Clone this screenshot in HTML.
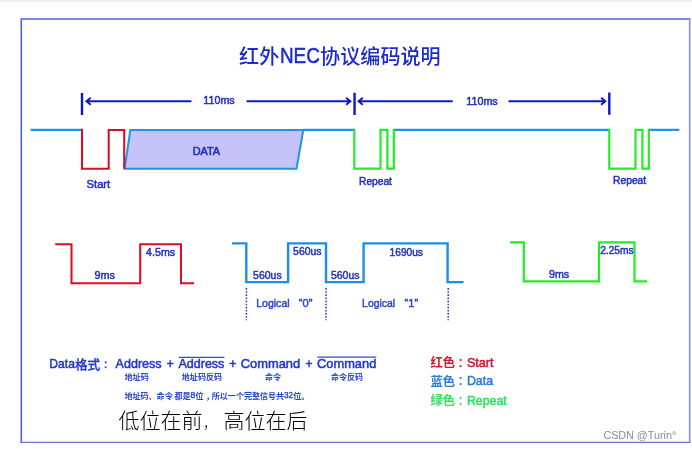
<!DOCTYPE html>
<html lang="zh-CN">
<head>
<meta charset="utf-8">
<title>红外NEC协议编码说明</title>
<style>
html,body{margin:0;padding:0;background:#fff;}
body{width:692px;height:449px;overflow:hidden;font-family:"Liberation Sans",sans-serif;}
svg{display:block;}
svg text{font-family:"Liberation Sans","Noto Sans CJK SC",sans-serif;}
</style>
</head>
<body>
<svg width="692" height="449" viewBox="0 0 692 449">
<defs>
<filter id="soft" x="0" y="0" width="692" height="449" filterUnits="userSpaceOnUse"><feGaussianBlur stdDeviation="0.38"/></filter>
</defs>
<g filter="url(#soft)">
<rect x="0" y="0" width="692" height="449" fill="#ffffff"/>
<rect x="0" y="0" width="692" height="2" fill="#efefef"/>
<path d="M21.3 443V18.95H690.4" fill="none" stroke="#4c64dc" stroke-width="1.6"/>
<path d="M689.7 19V442.5" fill="none" stroke="#8794da" stroke-width="1.6"/>
<path d="M20.5 442.4H690.5" fill="none" stroke="#6474d0" stroke-width="1.4"/>
<text x="239.1" y="64.2" font-size="20.5" font-weight="500" fill="#1c2ad0" textLength="40.2" lengthAdjust="spacingAndGlyphs">红外</text>
<text x="279.9" y="63.1" font-size="22" fill="#1c2ad0" textLength="39.9" lengthAdjust="spacingAndGlyphs" stroke="#1c2ad0" stroke-width="0.5">NEC</text>
<text x="320.1" y="64.2" font-size="20.5" font-weight="500" fill="#1c2ad0" textLength="120.6" lengthAdjust="spacingAndGlyphs">协议编码说明</text>
<path d="M30.5 129.9H82" fill="none" stroke="#2094e6" stroke-width="2.2"/>
<path d="M124.6 168.7L130.3 130H303.3L296.5 168.7Z" fill="#c5c3f7" stroke="#2094e6" stroke-width="2" stroke-linejoin="miter"/>
<path d="M303.3 129.9H354.3M393.8 129.9H609.3M648.8 129.9H679.3" fill="none" stroke="#2094e6" stroke-width="2.2"/>
<path d="M82 128.8V168.8H108.7V129.9H124.2V168.8" fill="none" stroke="#da1028" stroke-width="2.05" stroke-linejoin="miter"/>
<path d="M354.3 128.8V168.7H380.5V129.9H387.4V168.7H393.8V128.8" fill="none" stroke="#20ee28" stroke-width="2.2" stroke-linejoin="miter"/>
<path d="M609.3 128.8V168.7H635.5V129.9H642.4V168.7H648.8V128.8" fill="none" stroke="#20ee28" stroke-width="2.2" stroke-linejoin="miter"/>
<path d="M82 92.9V115M354.55 92.7V114.9M609.3 92.6V114.8" fill="none" stroke="#1018c8" stroke-width="2.4"/>
<path d="M191.4 101.25H86.1M90.69999999999999 97.75L86.39999999999999 101.25L90.69999999999999 104.75M246.6 101.25H350.7M346.09999999999997 97.75L350.4 101.25L346.09999999999997 104.75M452.7 101.25H358.2M362.8 97.75L358.5 101.25L362.8 104.75M508.5 101.25H605.7M601.1 97.75L605.4000000000001 101.25L601.1 104.75" fill="none" stroke="#1018c8" stroke-width="1.9" stroke-linejoin="miter"/>
<text x="203.3" y="103.7" font-size="10.4" fill="#2230c0" textLength="31.4" lengthAdjust="spacingAndGlyphs" stroke="#2230c0" stroke-width="0.5">110ms</text>
<text x="466.3" y="104.5" font-size="10.4" fill="#2230c0" textLength="31.4" lengthAdjust="spacingAndGlyphs" stroke="#2230c0" stroke-width="0.5">110ms</text>
<text x="192.7" y="154.5" font-size="10" fill="#2230c0" textLength="27.4" lengthAdjust="spacingAndGlyphs" stroke="#2230c0" stroke-width="0.55">DATA</text>
<text x="86.6" y="187.6" font-size="10.6" fill="#2230c0" textLength="23.6" lengthAdjust="spacingAndGlyphs" stroke="#2230c0" stroke-width="0.5">Start</text>
<text x="359.1" y="184.8" font-size="10.4" fill="#2230c0" textLength="32.8" lengthAdjust="spacingAndGlyphs" stroke="#2230c0" stroke-width="0.5">Repeat</text>
<text x="613" y="184.3" font-size="10.4" fill="#2230c0" textLength="33.2" lengthAdjust="spacingAndGlyphs" stroke="#2230c0" stroke-width="0.5">Repeat</text>
<path d="M55.2 244.2H71.5V283.2H140.2V244.2H181V283.2H194.1" fill="none" stroke="#da1028" stroke-width="2.05" stroke-linejoin="miter"/>
<path d="M232 243.4H246.3V282.1H288.1V243.4H326V282.1H363.6V243.4H447.6V282.1H463.5" fill="none" stroke="#1e8eea" stroke-width="2.4" stroke-linejoin="miter"/>
<path d="M510.2 242.4H523.8V281.4H599V242.4H634.5V281.4H647" fill="none" stroke="#20ee28" stroke-width="2.2" stroke-linejoin="miter"/>
<path d="M246.4 288V320.2M326 288V320.2M448.2 288V320.2" fill="none" stroke="#3038b8" stroke-width="1.5" stroke-dasharray="1.65 1.48"/>
<text x="94.6" y="279.2" font-size="11.4" fill="#2434bc" textLength="20.4" lengthAdjust="spacingAndGlyphs" stroke="#2434bc" stroke-width="0.5">9ms</text>
<text x="146.1" y="256.3" font-size="11.4" fill="#2434bc" textLength="29" lengthAdjust="spacingAndGlyphs" stroke="#2434bc" stroke-width="0.5">4.5ms</text>
<text x="253.1" y="278.8" font-size="11.2" fill="#2434bc" textLength="28.6" lengthAdjust="spacingAndGlyphs" stroke="#2434bc" stroke-width="0.5">560us</text>
<text x="293.1" y="255.4" font-size="11.2" fill="#2434bc" textLength="28.4" lengthAdjust="spacingAndGlyphs" stroke="#2434bc" stroke-width="0.5">560us</text>
<text x="330.9" y="278.8" font-size="11.2" fill="#2434bc" textLength="28.6" lengthAdjust="spacingAndGlyphs" stroke="#2434bc" stroke-width="0.5">560us</text>
<text x="389.6" y="255.5" font-size="11.2" fill="#2434bc" textLength="33.3" lengthAdjust="spacingAndGlyphs" stroke="#2434bc" stroke-width="0.5">1690us</text>
<text x="549" y="278.1" font-size="11.4" fill="#2434bc" textLength="20.2" lengthAdjust="spacingAndGlyphs" stroke="#2434bc" stroke-width="0.5">9ms</text>
<text x="600.2" y="253.7" font-size="11.4" fill="#2434bc" textLength="33.4" lengthAdjust="spacingAndGlyphs" stroke="#2434bc" stroke-width="0.5">2.25ms</text>
<text x="256.2" y="306.5" font-size="10.3" fill="#3048c4" textLength="33.4" lengthAdjust="spacingAndGlyphs" stroke="#3048c4" stroke-width="0.45">Logical</text>
<text x="298.8" y="306.5" font-size="10.3" fill="#3048c4" textLength="13.6" lengthAdjust="spacingAndGlyphs" stroke="#3048c4" stroke-width="0.45">“0”</text>
<text x="362.1" y="306.5" font-size="10.3" fill="#3048c4" textLength="33" lengthAdjust="spacingAndGlyphs" stroke="#3048c4" stroke-width="0.45">Logical</text>
<text x="404.6" y="306.5" font-size="10.3" fill="#3048c4" textLength="13.6" lengthAdjust="spacingAndGlyphs" stroke="#3048c4" stroke-width="0.45">“1”</text>
<text x="49.3" y="368.2" font-size="13.4" fill="#2438cc" textLength="25.6" lengthAdjust="spacingAndGlyphs" stroke="#2438cc" stroke-width="0.55">Data</text>
<text x="75" y="369.1" font-size="12.7" font-weight="500" fill="#2438cc" stroke="#2438cc" stroke-width="0.3" textLength="25.2" lengthAdjust="spacingAndGlyphs">格式</text>
<text x="103.3" y="367.9" font-size="9.7" font-weight="500" fill="#2438cc" stroke="#2438cc" stroke-width="0.3">：</text>
<text x="115.6" y="368.2" font-size="13.4" fill="#2438cc" textLength="46" lengthAdjust="spacingAndGlyphs" stroke="#2438cc" stroke-width="0.55">Address</text>
<text x="166.8" y="368.2" font-size="13.4" fill="#2438cc" textLength="7" lengthAdjust="spacingAndGlyphs" stroke="#2438cc" stroke-width="0.55">+</text>
<text x="178.4" y="368.2" font-size="13.4" fill="#2438cc" textLength="46" lengthAdjust="spacingAndGlyphs" stroke="#2438cc" stroke-width="0.55">Address</text>
<text x="229.3" y="368.2" font-size="13.4" fill="#2438cc" textLength="7" lengthAdjust="spacingAndGlyphs" stroke="#2438cc" stroke-width="0.55">+</text>
<text x="240.8" y="368.2" font-size="13.4" fill="#2438cc" textLength="59.4" lengthAdjust="spacingAndGlyphs" stroke="#2438cc" stroke-width="0.55">Command</text>
<text x="305.4" y="368.2" font-size="13.4" fill="#2438cc" textLength="7" lengthAdjust="spacingAndGlyphs" stroke="#2438cc" stroke-width="0.55">+</text>
<text x="317.1" y="368.2" font-size="13.4" fill="#2438cc" textLength="59.2" lengthAdjust="spacingAndGlyphs" stroke="#2438cc" stroke-width="0.55">Command</text>
<path d="M178.7 357.3H224.4M317.4 357.1H376.3" fill="none" stroke="#3448d0" stroke-width="1.15"/>
<text x="124.4" y="380.4" font-size="8.3" font-weight="bold" fill="#2c46d0" textLength="24.4" lengthAdjust="spacingAndGlyphs">地址码</text>
<text x="181.8" y="380.4" font-size="8.3" font-weight="bold" fill="#2c46d0" textLength="40.3" lengthAdjust="spacingAndGlyphs">地址码反码</text>
<text x="265" y="380.4" font-size="8.3" font-weight="bold" fill="#2c46d0" textLength="16.1" lengthAdjust="spacingAndGlyphs">命令</text>
<text x="330.9" y="380.4" font-size="8.3" font-weight="bold" fill="#2c46d0" textLength="32.15" lengthAdjust="spacingAndGlyphs">命令反码</text>
<text x="124.4" y="398.8" font-size="8.3" font-weight="bold" fill="#2c46d0" textLength="48.3" lengthAdjust="spacingAndGlyphs">地址码、命令</text>
<text x="174.4" y="398.8" font-size="8.3" font-weight="bold" fill="#2c46d0" textLength="16.3" lengthAdjust="spacingAndGlyphs">都是</text>
<text x="190.6" y="398.2" font-size="8.6" fill="#2c46d0" stroke="#2c46d0" stroke-width="0.4">8</text>
<text x="195.2" y="398.8" font-size="8.3" font-weight="bold" fill="#2c46d0">位</text>
<text x="205.8" y="398.8" font-size="8.3" font-weight="bold" fill="#2c46d0">，</text>
<text x="211.8" y="398.8" font-size="8.3" font-weight="bold" fill="#2c46d0" textLength="72.3" lengthAdjust="spacingAndGlyphs">所以一个完整信号共</text>
<text x="284" y="398.2" font-size="8.6" fill="#2c46d0" textLength="9" lengthAdjust="spacingAndGlyphs" stroke="#2c46d0" stroke-width="0.4">32</text>
<text x="293.2" y="398.8" font-size="8.3" font-weight="bold" fill="#2c46d0" textLength="16.3" lengthAdjust="spacingAndGlyphs">位。</text>
<text x="118.6" y="428.1" font-size="21" font-weight="300" fill="#000000" textLength="84" lengthAdjust="spacingAndGlyphs">低位在前</text>
<text x="203.1" y="428.4" font-size="14" font-weight="300" fill="#000000">，</text>
<text x="223.6" y="428.1" font-size="21" font-weight="300" fill="#000000" textLength="84" lengthAdjust="spacingAndGlyphs">高位在后</text>
<text x="430.5" y="367.1" font-size="12.4" font-weight="bold" fill="#cc1a32" textLength="24.6" lengthAdjust="spacingAndGlyphs">红色</text>
<text x="457.8" y="367.2" font-size="11.3" font-weight="bold" fill="#cc1a32">：</text>
<text x="466.9" y="366.9" font-size="13.2" fill="#cc1a32" textLength="26.6" lengthAdjust="spacingAndGlyphs" stroke="#cc1a32" stroke-width="0.55">Start</text>
<text x="430.5" y="385.8" font-size="12.4" font-weight="bold" fill="#2a7eda" textLength="24.6" lengthAdjust="spacingAndGlyphs">蓝色</text>
<text x="457.8" y="385.2" font-size="11.3" font-weight="bold" fill="#2a7eda">：</text>
<text x="466.9" y="384.9" font-size="13.2" fill="#2a7eda" textLength="26.2" lengthAdjust="spacingAndGlyphs" stroke="#2a7eda" stroke-width="0.55">Data</text>
<text x="430.5" y="405.4" font-size="12.4" font-weight="bold" fill="#30e060" textLength="24.6" lengthAdjust="spacingAndGlyphs">绿色</text>
<text x="457.8" y="404.9" font-size="11.3" font-weight="bold" fill="#30e060">：</text>
<text x="466.9" y="404.6" font-size="13.2" fill="#30e060" textLength="39.8" lengthAdjust="spacingAndGlyphs" stroke="#30e060" stroke-width="0.55">Repeat</text>
<text x="603.4" y="438.5" font-size="11" fill="#8c8c8c" textLength="72.8" lengthAdjust="spacingAndGlyphs">CSDN @Turin°</text>
</g>
</svg>
</body>
</html>
